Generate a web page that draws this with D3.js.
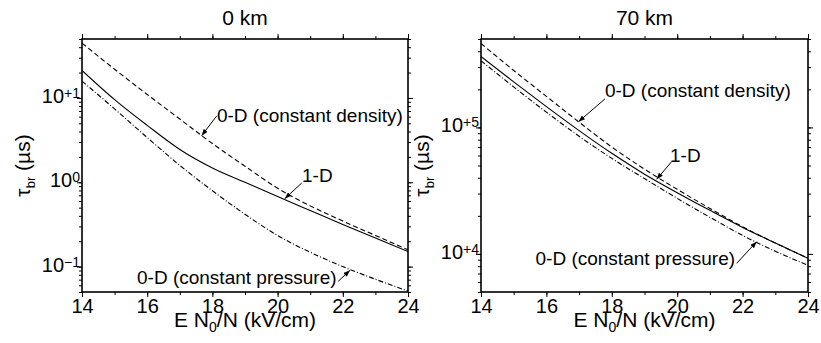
<!DOCTYPE html>
<html>
<head>
<meta charset="utf-8">
<title>Breakdown time</title>
<script src="https://d3js.org/d3.v7.min.js"></script>
<style>
  body { margin: 0; background: #fff; }
  svg { font-family: "Liberation Sans", Arial, Helvetica, sans-serif; }
</style>
</head>
<body>
<svg width="821" height="343"></svg>
<script>
// reduced field E N0/N (kV/cm)
var fields = [14, 15, 16, 17, 18, 19, 20, 21, 22, 23, 24];

// 0 km, breakdown time (us)
var density0  = [44.7, 21.9, 11.0, 5.62, 2.88, 1.55, 0.85, 0.525, 0.347, 0.234, 0.158];
var oneD0     = [21.2, 9.55, 4.73, 2.45, 1.48, 1.0, 0.676, 0.462, 0.316, 0.219, 0.151];
var pressure0 = [15.85, 7.41, 3.39, 1.585, 0.794, 0.417, 0.234, 0.148, 0.1, 0.0708, 0.0513];

// 70 km
var density70  = [461000, 282000, 176000, 110000, 70000, 46800, 32400, 22900, 16400, 12200, 9250];
var oneD70     = [363000, 229000, 146000, 94400, 62400, 42700, 30500, 22100, 16200, 12200, 9230];
var pressure70 = [337000, 209000, 132000, 85100, 56900, 39400, 27500, 19500, 14000, 10500, 8130];

var xTicks = [14, 16, 18, 20, 22, 24];
var xMinor = [14, 15, 16, 17, 18, 19, 20, 21, 22, 23, 24];
var yExp0 = [-1, 0, 1];
var yExp70 = [4, 5];
var titles = ["0 km", "70 km"];
var seriesNames = ["0-D (constant density)", "1-D", "0-D (constant pressure)"];

// annotation anchors in data units: tip on curve, tail of arrow, text anchor
var notes0 = [
  {s: 0, tip: [17.67, 3.57], tail: [18.13, 6.1], text: [18.14, 5.2], anchor: "start"},
  {s: 1, tip: [20.22, 0.64], tail: [20.74, 0.98], text: [20.75, 1.0], anchor: "start"},
  {s: 2, tip: [22.22, 0.0903], tail: [21.86, 0.067], text: [21.81, 0.0614], anchor: "end"}
];
var notes70 = [
  {s: 0, tip: [16.98, 110900], tail: [17.79, 168000], text: [17.79, 175000], anchor: "start"},
  {s: 1, tip: [19.37, 38900], tail: [19.83, 53600], text: [19.78, 53600], anchor: "start"},
  {s: 2, tip: [22.43, 12500], tail: [21.82, 8430], text: [21.77, 8170], anchor: "end"}
];

var plotTop = 39, plotBottom = 292;
var dashes = ["5,3", null, "5,2,1,2"];

var svg = d3.select('svg');

svg.append('defs').append('marker')
  .attr('id', 'head')
  .attr('viewBox', '0 0 8 6')
  .attr('refX', 8).attr('refY', 3)
  .attr('markerWidth', 7).attr('markerHeight', 5)
  .attr('markerUnits', 'userSpaceOnUse')
  .attr('orient', 'auto')
  .append('path').attr('d', 'M0,0L8,3L0,6z').attr('fill', '#000');

var panels = [
  {title: titles[0], left: 82, right: 408, yDomain: [0.05, 50], exps: yExp0,
   series: [density0, oneD0, pressure0], notes: notes0},
  {title: titles[1], left: 481, right: 808, yDomain: [5000, 500000], exps: yExp70,
   series: [density70, oneD70, pressure70], notes: notes70}
];

function supText(e) {
  if (e > 0) return '+' + e;
  if (e < 0) return '\u2212' + (-e);
  return '0';
}

function logMinors(domain) {
  var out = [];
  var lo = Math.floor(Math.log10(domain[0])), hi = Math.ceil(Math.log10(domain[1]));
  for (var d = lo; d <= hi; d++) {
    for (var k = 1; k <= 9; k++) {
      var v = k * Math.pow(10, d);
      if (v >= domain[0] * 0.999 && v <= domain[1] * 1.001) out.push(v);
    }
  }
  return out;
}

panels.forEach(function(p, pi) {
  var x = d3.scaleLinear().domain([14, 24]).range([p.left, p.right]);
  var y = d3.scaleLog().domain(p.yDomain).range([plotBottom, plotTop]);
  var g = svg.append('g');
  var minors = logMinors(p.yDomain);
  var majors = p.exps.map(function(e) { return Math.pow(10, e); });

  // ticks, outward on all four sides
  function tickAxis(axis, tr) {
    var a = g.append('g').attr('transform', tr).call(axis);
    a.select('.domain').remove();
    a.selectAll('line').attr('stroke', '#000').attr('stroke-width', 1);
    return a;
  }
  tickAxis(d3.axisBottom(x).tickValues(xMinor).tickSize(3).tickFormat(''), 'translate(0,' + plotBottom + ')');
  tickAxis(d3.axisTop(x).tickValues(xMinor).tickSize(3).tickFormat(''), 'translate(0,' + plotTop + ')');
  var bx = tickAxis(d3.axisBottom(x).tickValues(xTicks).tickSize(5).tickPadding(2).tickFormat(d3.format('d')), 'translate(0,' + plotBottom + ')');
  bx.selectAll('text').attr('font-size', 20).attr('font-family', null).attr('fill', '#000');
  tickAxis(d3.axisTop(x).tickValues(xTicks).tickSize(5).tickFormat(''), 'translate(0,' + plotTop + ')');

  tickAxis(d3.axisLeft(y).tickValues(minors).tickSize(3).tickFormat(''), 'translate(' + p.left + ',0)');
  tickAxis(d3.axisRight(y).tickValues(minors).tickSize(3).tickFormat(''), 'translate(' + p.right + ',0)');
  tickAxis(d3.axisLeft(y).tickValues(majors).tickSize(5).tickFormat(''), 'translate(' + p.left + ',0)');
  tickAxis(d3.axisRight(y).tickValues(majors).tickSize(5).tickFormat(''), 'translate(' + p.right + ',0)');

  // power-of-ten labels
  g.selectAll('.ylab').data(p.exps).join('text')
    .attr('class', 'ylab')
    .attr('x', p.left - 2)
    .attr('y', function(d) { return y(Math.pow(10, d)) + 5; })
    .attr('text-anchor', 'end')
    .attr('font-size', 20)
    .each(function(d) {
      var t = d3.select(this);
      t.append('tspan').text('10');
      t.append('tspan').attr('dy', -5).attr('font-size', 14).text(supText(d));
    });

  // curves
  var clipId = 'clip' + pi;
  svg.select('defs').append('clipPath').attr('id', clipId)
    .append('rect').attr('x', p.left).attr('y', plotTop)
    .attr('width', p.right - p.left).attr('height', plotBottom - plotTop);

  var line = d3.line()
    .x(function(d, i) { return x(fields[i]); })
    .y(function(d) { return y(d); })
    .curve(d3.curveMonotoneX);

  g.append('g').attr('clip-path', 'url(#' + clipId + ')')
    .selectAll('path').data(p.series).join('path')
    .attr('d', line)
    .attr('fill', 'none')
    .attr('stroke', '#000')
    .attr('stroke-width', 1.1)
    .attr('stroke-dasharray', function(d, i) { return dashes[i]; });

  // frame
  g.append('rect')
    .attr('x', p.left).attr('y', plotTop)
    .attr('width', p.right - p.left).attr('height', plotBottom - plotTop)
    .attr('fill', 'none').attr('stroke', '#000').attr('stroke-width', 1.6);

  // annotations
  p.notes.forEach(function(n) {
    g.append('line')
      .attr('x1', x(n.tail[0])).attr('y1', y(n.tail[1]))
      .attr('x2', x(n.tip[0])).attr('y2', y(n.tip[1]))
      .attr('stroke', '#000').attr('stroke-width', 1)
      .attr('marker-end', 'url(#head)');
    g.append('text')
      .attr('x', x(n.text[0])).attr('y', y(n.text[1]))
      .attr('text-anchor', n.anchor)
      .attr('font-size', 19)
      .text(seriesNames[n.s]);
  });

  // titles
  var cx = (p.left + p.right) / 2;
  g.append('text').attr('x', cx).attr('y', 25)
    .attr('text-anchor', 'middle').attr('font-size', 21).text(p.title);

  var xt = g.append('text').attr('x', cx).attr('y', 327)
    .attr('text-anchor', 'middle').attr('font-size', 21);
  xt.append('tspan').text('E N');
  xt.append('tspan').attr('dy', 5).attr('font-size', 14).text('0');
  xt.append('tspan').attr('dy', -5).text('/N (kV/cm)');

  var yt = g.append('text')
    .attr('transform', 'translate(' + (p.left - 52) + ',' + ((plotTop + plotBottom) / 2) + ') rotate(-90)')
    .attr('text-anchor', 'middle').attr('font-size', 21);
  yt.append('tspan').text('\u03c4');
  yt.append('tspan').attr('dy', 5).attr('font-size', 13).text('br');
  yt.append('tspan').attr('dy', -5).text(' (\u00b5s)');
});
</script>
</body>
</html>
